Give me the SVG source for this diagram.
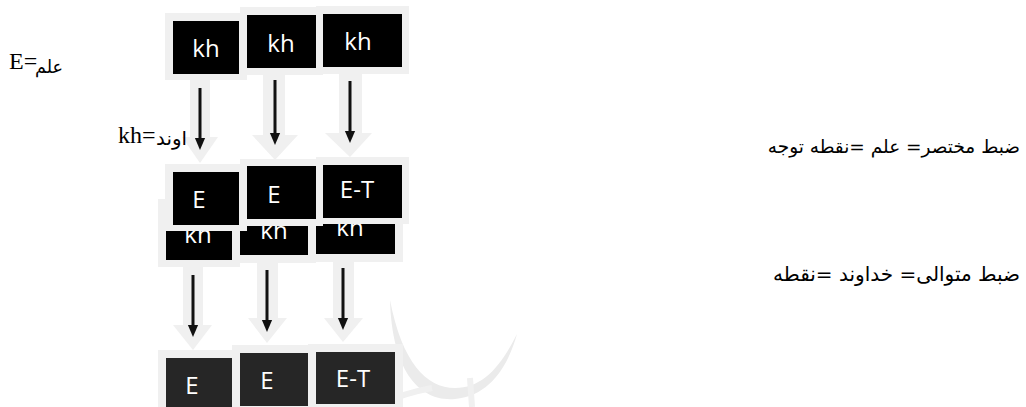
<svg xmlns="http://www.w3.org/2000/svg" width="1026" height="407" viewBox="0 0 1026 407">
<style>
.pad{fill:#f0f0f0}
.blk{fill:#000}
.dk{fill:#262626}
.bt{font-family:"Open Sans","Noto Sans",sans-serif;font-size:24px;fill:#fff;text-anchor:middle}
.ga{fill:#f0f0f0}
.sh{stroke:#111;stroke-width:3;fill:none;marker-end:url(#ah)}
.ser{font-family:"Liberation Serif",serif;font-size:24px;fill:#000}
.ar{font-family:"DejaVu Sans",sans-serif;fill:#000}
</style>
<defs>
<marker id="ah" markerWidth="4" markerHeight="4" refX="2" refY="2" orient="auto" markerUnits="strokeWidth" viewBox="0 0 4 4">
<path d="M0,0.3 L4,2 L0,3.7 Z" fill="#111"/>
</marker>
</defs>
<rect width="1026" height="407" fill="#fff"/>
<g id="watermark">
<path d="M390,300 C392,372 420,402 455,399 C490,396 508,366 517,334 C500,368 482,388 455,388 C426,388 402,362 390,300 Z" fill="#ebebeb"/>
<path d="M372,407 C392,398 410,392 432,388" stroke="#f0f0f0" stroke-width="6" fill="none"/>
<path d="M470,378 L472,407" stroke="#f0f0f0" stroke-width="6" fill="none"/>
</g>
<g id="connectors">
<path class="ga" d="M190,78 H210 V137 H218 L200,163 L182,137 H190 Z"/>
<path class="ga" d="M263,73 H285 V135 H298 L275,160 L252,135 H263 Z"/>
<path class="ga" d="M339,71 H362 V133 H372 L350,157 L325,133 H339 Z"/>
<path class="ga" d="M183,262 H203 V325 H212 L193,350 L173,325 H183 Z"/>
<path class="ga" d="M257,258 H278 V318 H287 L267,343 L248,318 H257 Z"/>
<path class="ga" d="M333,256 H354 V318 H363 L343,342 L324,318 H333 Z"/>
<line class="sh" x1="200" y1="88" x2="200" y2="144"/>
<line class="sh" x1="275" y1="80" x2="275" y2="139"/>
<line class="sh" x1="350" y1="81" x2="350" y2="137"/>
<line class="sh" x1="193" y1="275" x2="193" y2="331"/>
<line class="sh" x1="267" y1="270" x2="267" y2="326"/>
<line class="sh" x1="343" y1="268" x2="343" y2="324"/>
</g>
<g id="kh1"><rect class="pad" x="165" y="13" width="82" height="67"/><rect class="blk" x="173" y="21" width="66" height="53"/><text class="bt" x="206" y="57">kh</text></g>
<g id="kh2"><rect class="pad" x="240" y="7" width="83" height="68"/><rect class="blk" x="247" y="15" width="69" height="53"/><text class="bt" x="281" y="52">kh</text></g>
<g id="kh3"><rect class="pad" x="316" y="6" width="93" height="68"/><rect class="blk" x="323" y="14" width="79" height="53"/><text class="bt" x="358" y="50">kh</text></g>
<g id="kh4"><rect class="pad" x="158" y="199" width="82" height="68"/><rect class="blk" x="166" y="207" width="66" height="53"/><text class="bt" x="198" y="243">kh</text></g>
<g id="kh5"><rect class="pad" x="232" y="195" width="84" height="68"/><rect class="blk" x="240" y="202" width="68" height="53"/><text class="bt" x="274" y="239">kh</text></g>
<g id="kh6"><rect class="pad" x="308" y="193" width="95" height="69"/><rect class="blk" x="316" y="201" width="79" height="53"/><text class="bt" x="350" y="236">kh</text></g>
<g id="e1"><rect class="pad" x="165" y="164" width="82" height="67"/><rect class="blk" x="173" y="172" width="66" height="53"/><text class="bt" x="199" y="208">E</text></g>
<g id="e2"><rect class="pad" x="240" y="159" width="83" height="67"/><rect class="blk" x="247" y="166" width="69" height="53"/><text class="bt" x="274" y="203">E</text></g>
<g id="et3"><rect class="pad" x="316" y="157" width="93" height="67"/><rect class="blk" x="323" y="165" width="79" height="53"/><text class="bt" x="357" y="198">E-T</text></g>
<g id="e4"><rect class="pad" x="158" y="350" width="82" height="62"/><rect class="dk" x="166" y="358" width="66" height="53"/><text class="bt" x="192" y="394">E</text></g>
<g id="e5"><rect class="pad" x="232" y="345" width="84" height="67"/><rect class="dk" x="240" y="353" width="68" height="53"/><text class="bt" x="267" y="389">E</text></g>
<g id="et6"><rect class="pad" x="308" y="344" width="95" height="68"/><rect class="dk" x="316" y="352" width="79" height="52"/><text class="bt" x="353" y="387">E-T</text></g>
<g id="labels">
<text class="ser" x="9" y="69">E=</text>
<text class="ar" x="63" y="73" font-size="18" text-anchor="end" textLength="28" lengthAdjust="spacingAndGlyphs">علم</text>
<text class="ser" x="118" y="143">kh=</text>
<text class="ar" x="187" y="145" font-size="19" text-anchor="end" textLength="31" lengthAdjust="spacingAndGlyphs">اوند</text>
<text class="ar" x="1020" y="153" font-size="18.5" text-anchor="end">ضبط مختصر= علم =نقطه توجه</text>
<text class="ar" x="1020" y="281" font-size="20" text-anchor="end">ضبط متوالی= خداوند =نقطه</text>
</g>
</svg>
